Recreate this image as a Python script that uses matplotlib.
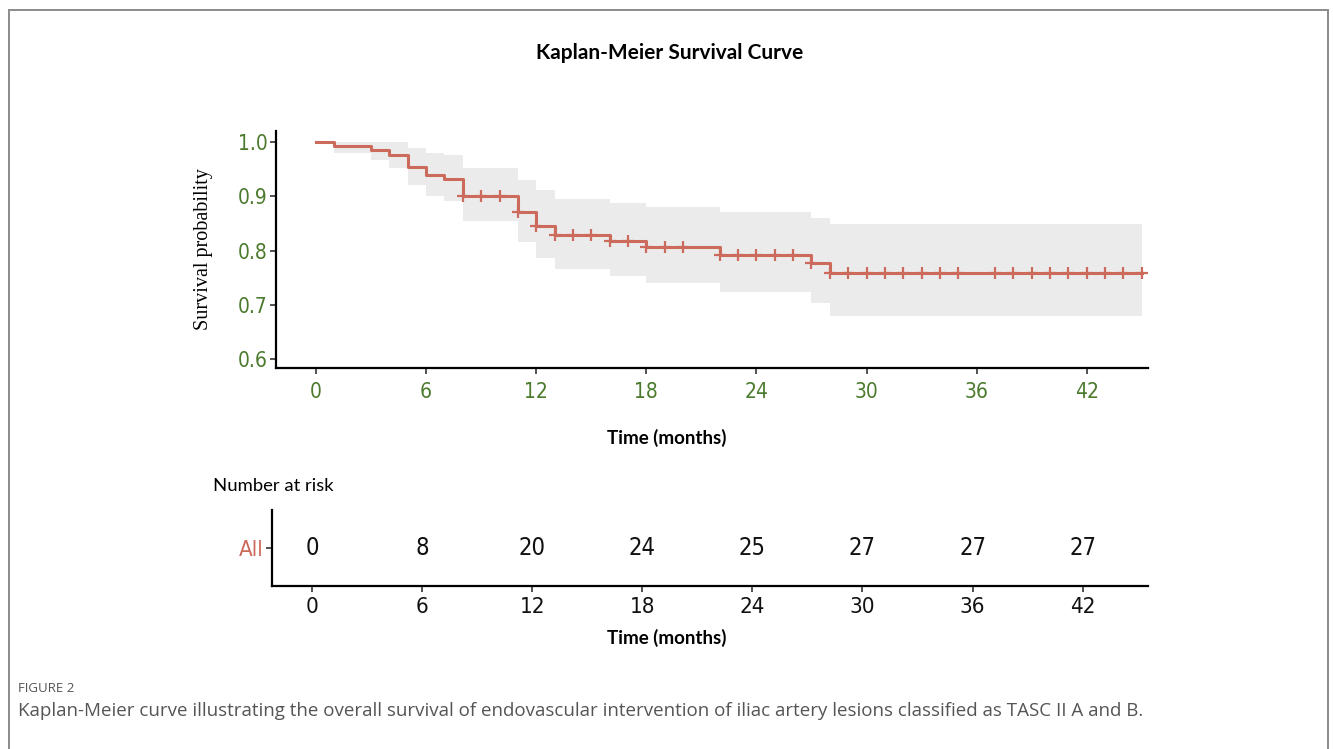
import matplotlib
matplotlib.use("Agg")
import matplotlib.pyplot as plt
from matplotlib.patches import Rectangle
import numpy as np

# ── Data ─────────────────────────────────────────────────────────────────────
STEP_TIMES = [0, 1, 3, 4, 5, 6, 7, 8, 11, 12, 13, 16, 18, 22, 27, 28, 45]
SURVIVAL = [1.000, 0.993, 0.985, 0.977, 0.955, 0.940, 0.932, 0.901, 0.872,
            0.846, 0.828, 0.818, 0.806, 0.792, 0.778, 0.759, 0.759]
CI_UPPER = [1.000, 1.000, 1.000, 1.000, 0.989, 0.980, 0.977, 0.953, 0.930,
            0.911, 0.895, 0.887, 0.880, 0.871, 0.861, 0.849, 0.849]
CI_LOWER = [1.000, 0.980, 0.967, 0.953, 0.921, 0.901, 0.892, 0.854, 0.816,
            0.787, 0.766, 0.754, 0.740, 0.724, 0.703, 0.680, 0.680]
CENSOR_TIMES = [8, 9, 10, 11, 12, 13, 14, 15, 16, 17, 18, 19, 20,
                22, 23, 24, 25, 26, 27, 28, 29, 30, 31, 32, 33, 34, 35,
                37, 38, 39, 40, 41, 42, 43, 44, 45]

RISK_TIMES = [0, 6, 12, 18, 24, 30, 36, 42]
RISK_COUNTS = [0, 8, 20, 24, 25, 27, 27, 27]

Y_TICKS = [0.6, 0.7, 0.8, 0.9, 1.0]

# ── Style ─────────────────────────────────────────────────────────────────────
CURVE = "#cc6a5c"
BAND = "#ebebeb"
GREEN = "#4b7a2c"
NARROW = dict(family=["Liberation Sans Narrow", "DejaVu Sans"],
              stretch="condensed")
W, H = 1333, 749


def box(x0, y0, x1, y1):
    """pixel box (top-left origin) -> figure rect"""
    return [x0 / W, 1 - y1 / H, (x1 - x0) / W, (y1 - y0) / H]


def narrow(labels):
    for lab in labels:
        lab.set_family(NARROW["family"])
        lab.set_stretch(NARROW["stretch"])


fig = plt.figure(figsize=(W / 100, H / 100), dpi=100)
fig.patch.set_facecolor("white")

# outer frame
fig.patches.append(Rectangle((9 / W, -0.01), (1328 - 9) / W, 1 - 10 / H + 0.01,
                             transform=fig.transFigure, fill=False,
                             edgecolor="#8a8a8a", linewidth=1.4))

fig.text(670 / W, 1 - 53 / H, "Kaplan-Meier Survival Curve", ha="center",
         va="center", fontsize=15, fontweight="bold", family="Lato")

# ── Survival plot ─────────────────────────────────────────────────────────────
ax = fig.add_axes(box(276, 131, 1148, 368))
ax.fill_between(STEP_TIMES, CI_LOWER, CI_UPPER, step="post", color=BAND,
                linewidth=0, zorder=1)
ax.step(STEP_TIMES, SURVIVAL, where="post", color=CURVE, linewidth=2.2,
        zorder=3)
idx = np.searchsorted(STEP_TIMES, CENSOR_TIMES, side="right") - 1
ax.plot(CENSOR_TIMES, np.array(SURVIVAL)[idx], linestyle="none", marker="+",
        markersize=9, markeredgewidth=1.6, color=CURVE, zorder=4)

ax.set_xlim(-2.18, 45.34)
ax.set_ylim(0.5834, 1.0208)
ax.set_xticks(RISK_TIMES)
ax.set_yticks(Y_TICKS)
ax.set_yticklabels([f"{v:.1f}" for v in Y_TICKS])
for s in ("top", "right"):
    ax.spines[s].set_visible(False)
for s in ("left", "bottom"):
    ax.spines[s].set_linewidth(1.6)
ax.tick_params(axis="both", length=4, width=1.2, color="#333333",
               labelcolor=GREEN, labelsize=15)
ax.tick_params(axis="x", pad=6)
ax.tick_params(axis="y", pad=2)
narrow(ax.get_xticklabels() + ax.get_yticklabels())
ax.set_ylabel("Survival probability", family="Liberation Serif", fontsize=14.5)
ax.yaxis.set_label_coords(-0.072, 0.5)
ax.set_xlabel("Time (months)", family="Lato", fontweight="bold", fontsize=13.5)
ax.xaxis.set_label_coords((667 - 276) / 872, -(429 - 368) / 237)

# ── Number at risk table ─────────────────────────────────────────────────────
fig.text(213 / W, 1 - 486 / H, "Number at risk", ha="left", va="center",
         fontsize=13.3, family="Lato")

rt = fig.add_axes(box(272, 510, 1148, 586))
rt.set_xlim(-2.18, 45.56)
rt.set_ylim(0, 1)
for t, n in zip(RISK_TIMES, RISK_COUNTS):
    rt.text(t, 0.5, str(n), ha="center", va="center", fontsize=17,
            color="#111111", **NARROW)
rt.set_xticks(RISK_TIMES)
rt.set_yticks([0.5])
rt.set_yticklabels(["All"])
for s in ("top", "right"):
    rt.spines[s].set_visible(False)
for s in ("left", "bottom"):
    rt.spines[s].set_linewidth(1.6)
rt.tick_params(axis="both", length=4, width=1.2, color="#333333",
               labelsize=16)
rt.tick_params(axis="x", pad=4, labelcolor="#111111")
rt.tick_params(axis="y", pad=2, labelcolor=CURVE)
narrow(rt.get_xticklabels() + rt.get_yticklabels())
rt.set_xlabel("Time (months)", family="Lato", fontweight="bold", fontsize=13.5)
rt.xaxis.set_label_coords((667 - 272) / 876, -(629 - 586) / 76)

# ── Caption ───────────────────────────────────────────────────────────────────
fig.text(18 / W, 1 - 688 / H, "FIGURE 2", ha="left", va="center", fontsize=9.5,
         family="Open Sans", color="#555555")
fig.text(18 / W, 1 - 711 / H,
         "Kaplan-Meier curve illustrating the overall survival of endovascular "
         "intervention of iliac artery lesions classified as TASC II A and B.",
         ha="left", va="center", fontsize=13.5, family="Open Sans",
         color="#555555")

fig.savefig("out.png", dpi=100)
